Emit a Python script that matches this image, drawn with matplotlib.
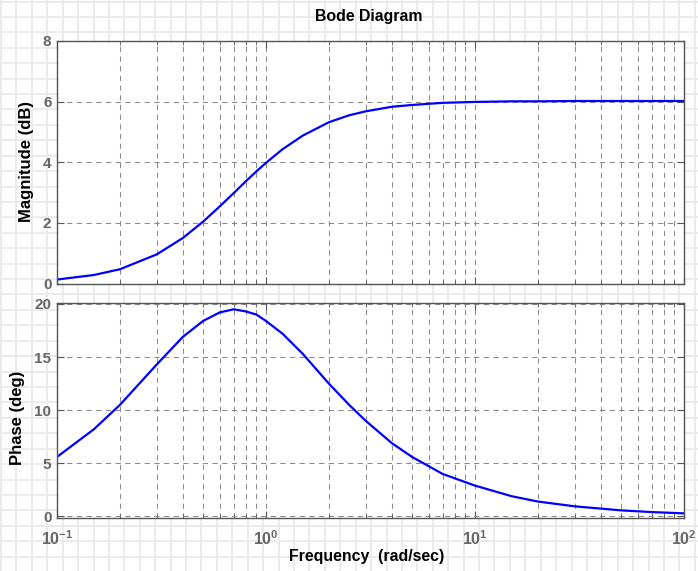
import numpy as np
import matplotlib
matplotlib.use("Agg")
import matplotlib.pyplot as plt
from matplotlib.lines import Line2D
from matplotlib.ticker import LogLocator, NullFormatter, FixedLocator

plt.rcParams["font.family"] = ["Liberation Sans", "DejaVu Sans"]
plt.rcParams["mathtext.fontset"] = "custom"
plt.rcParams["mathtext.bf"] = "Liberation Sans:bold"
plt.rcParams["mathtext.rm"] = "Liberation Sans:bold"

# values
freq = [0.1, 0.15, 0.2, 0.3, 0.4, 0.5, 0.6, 0.7, 0.8, 0.9, 1.0, 1.2, 1.5, 2.0,
        2.5, 3.0, 4.0, 5.0, 7.0, 10.0, 15.0, 20.0, 30.0, 50.0, 70.0, 100.0]
mag_db = [0.13, 0.28, 0.47, 0.96, 1.50, 2.04, 2.54, 2.98, 3.37, 3.70, 3.98, 4.43,
          4.88, 5.32, 5.55, 5.68, 5.83, 5.89, 5.96, 5.99, 6.01, 6.01, 6.02, 6.02,
          6.02, 6.02]
phase_deg = [5.6, 8.2, 10.5, 14.3, 16.9, 18.4, 19.2, 19.5, 19.3, 19.0, 18.4, 17.2,
             15.3, 12.5, 10.5, 9.0, 6.9, 5.6, 4.0, 2.9, 1.9, 1.4, 0.95, 0.57,
             0.41, 0.29]
mag_ticks = [0, 2, 4, 6, 8]
phase_ticks = [0, 5, 10, 15, 20]
freq_ticks = [0.1, 1, 10, 100]
freq_labels = [r"$\mathbf{10^{-1}}$", r"$\mathbf{10^{0}}$", r"$\mathbf{10^{1}}$", r"$\mathbf{10^{2}}$"]

W, H = 698, 571
fig = plt.figure(figsize=(W / 100, H / 100), dpi=100)
fig.patch.set_facecolor("white")

# graph-paper background
step = 15.42
for x in np.arange(1, W, step):
    fig.add_artist(Line2D([x / W, x / W], [0, 1], color="#ebebeb", lw=1.4, zorder=-10))
for y in np.arange(1.5, H, step):
    fig.add_artist(Line2D([0, 1], [1 - y / H, 1 - y / H], color="#ebebeb", lw=1.4, zorder=-10))

def px(l, t, r, b):
    return [l / W, 1 - b / H, (r - l) / W, (b - t) / H]

ax1 = fig.add_axes(px(57, 41, 684, 283.5))
ax2 = fig.add_axes(px(57, 302.7, 684, 517.7))

tick_col = "#666666"
spine_col = "#555555"
grid_kw = dict(color="#8a8a8a", lw=0.75, dashes=(5, 4.3))

for ax in (ax1, ax2):
    ax.set_xscale("log")
    ax.set_xlim(0.1, 100)
    ax.xaxis.set_major_locator(FixedLocator(freq_ticks))
    ax.xaxis.set_minor_locator(LogLocator(base=10, subs=np.arange(2, 10)))
    ax.xaxis.set_minor_formatter(NullFormatter())
    ax.grid(True, which="major", axis="both", **grid_kw)
    ax.grid(True, which="minor", axis="x", **grid_kw)
    ax.tick_params(which="both", direction="in", top=True, right=True,
                   colors=spine_col, labelcolor=tick_col, labelsize=11, pad=4)
    ax.tick_params(which="major", length=5)
    ax.tick_params(which="minor", length=3)
    for s in ax.spines.values():
        s.set_color(spine_col)
        s.set_linewidth(1.0)
    ax.set_axisbelow(True)

ax1.plot(freq, mag_db, color="#0000ff", lw=1.6)
ax1.set_ylim(0, 8)
ax1.set_yticks(mag_ticks)
ax1.set_yticklabels([str(v) for v in mag_ticks], fontweight="bold")
ax1.set_xticklabels([])

ax2.plot(freq, phase_deg, color="#0000ff", lw=1.6)
ax2.set_ylim(-0.12, 20.12)
ax2.set_yticks(phase_ticks)
ax2.set_yticklabels([str(v) for v in phase_ticks], fontweight="bold")
ax2.set_xticklabels(freq_labels, fontsize=11.5)
ax2.tick_params(axis="x", which="major", pad=8)

fig.text(369 / W, 1 - 17 / H, "Bode Diagram", ha="center", va="center",
         fontsize=11.4, fontweight="bold")
fig.text(27 / W, 1 - 161 / H, "Magnitude (dB)", ha="center", va="center",
         rotation=90, fontsize=12, fontweight="bold")
fig.text(18 / W, 1 - 418 / H, "Phase (deg)", ha="center", va="center",
         rotation=90, fontsize=12, fontweight="bold")
fig.text(367 / W, 1 - 557 / H, "Frequency  (rad/sec)", ha="center", va="center",
         fontsize=11.4, fontweight="bold")

fig.savefig("out.png", dpi=100)
